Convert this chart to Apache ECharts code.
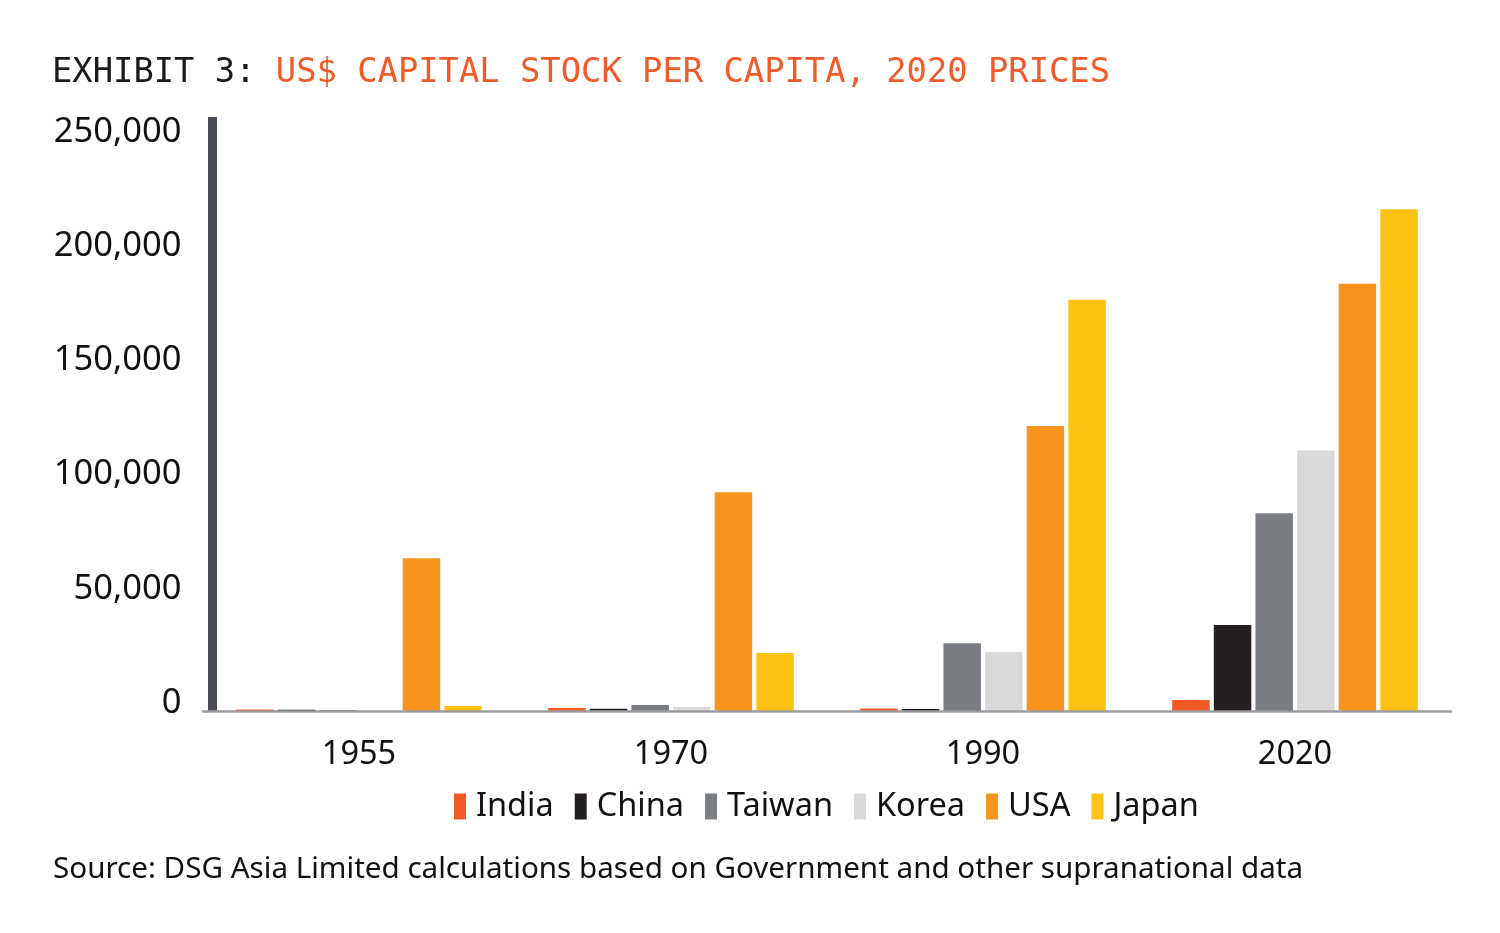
<!DOCTYPE html>
<html>
<head>
<meta charset="utf-8">
<script src="https://cdn.jsdelivr.net/npm/echarts@6/dist/echarts.min.js"></script>
<style>html,body{margin:0;padding:0;background:#fff}#c{width:1500px;height:933px}</style>
</head>
<body>
<div id="c"></div>
<script>
const categories = ['1955', '1970', '1990', '2020'];
const india  = [700, 1300, 1100, 4800];
const china  = [600, 1000, 900, 37600];
const taiwan = [400, 2600, 29700, 86600];
const korea  = [0, 1700, 25800, 114000];
const usa    = [66900, 95800, 124700, 187000];
const japan  = [2200, 25400, 180000, 219600];
const seriesNames = ['India', 'China', 'Taiwan', 'Korea', 'USA', 'Japan'];
const seriesColors = ['#f15a24', '#231f20', '#7a7d82', '#dadada', '#f7941d', '#fdc314'];
const yTicks = [0, 50000, 100000, 150000, 200000, 250000];

const dataSets = [india, china, taiwan, korea, usa, japan];
const FONT = 'Noto Sans';
const chart = echarts.init(document.getElementById('c'));
chart.setOption({
  animation: false,
  backgroundColor: '#ffffff',
  title: {
    left: 47, top: 51,
    text: '{a|EXHIBIT 3: }{b|US$ CAPITAL STOCK PER CAPITA, 2020 PRICES}',
    textStyle: {
      rich: {
        a: { fontFamily: 'DejaVu Sans Mono', fontWeight: 'normal', fontSize: 33.8, color: '#1a1a1a' },
        b: { fontFamily: 'DejaVu Sans Mono', fontWeight: 'normal', fontSize: 33.8, color: '#f15a29' }
      }
    }
  },
  legend: {
    bottom: 105, left: 449,
    itemWidth: 12, itemHeight: 26, itemGap: 21,
    icon: 'rect',
    data: seriesNames,
    textStyle: { fontFamily: FONT, fontSize: 32.5, color: '#111', padding: [0, 0, 0, 5] }
  },
  graphic: [{
    type: 'text', left: 53, top: 855,
    style: { text: 'Source: DSG Asia Limited calculations based on Government and other supranational data',
      fontFamily: FONT, fontSize: 29.6, fill: '#111' }
  }],
  grid: { left: 203, right: 49, top: 117, bottom: 222, containLabel: false },
  xAxis: {
    type: 'category', data: categories, z: 5,
    axisLine: { lineStyle: { color: '#9c9ca0', width: 2.5 } },
    axisTick: { show: false },
    axisLabel: { fontFamily: FONT, fontSize: 32.5, color: '#111', margin: 27 }
  },
  yAxis: {
    type: 'value', min: 0, max: 260000, interval: 50000, offset: -9.5,
    axisLine: { show: true, lineStyle: { color: '#4a4d55', width: 9, cap: 'butt' } },
    axisTick: { show: false },
    splitLine: { show: false },
    axisLabel: {
      fontFamily: FONT, fontSize: 34.5, color: '#111', margin: 31,
      showMaxLabel: false,
      verticalAlign: 'bottom', lineHeight: 16,
      formatter: v => yTicks.includes(v) ? v.toLocaleString('en-US') : ''
    }
  },
  series: seriesNames.map((n, i) => ({
    name: n, type: 'bar', data: dataSets[i],
    barWidth: 37.5, barGap: '11%',
    itemStyle: { color: seriesColors[i] }
  }))
});
</script>
</body>
</html>
